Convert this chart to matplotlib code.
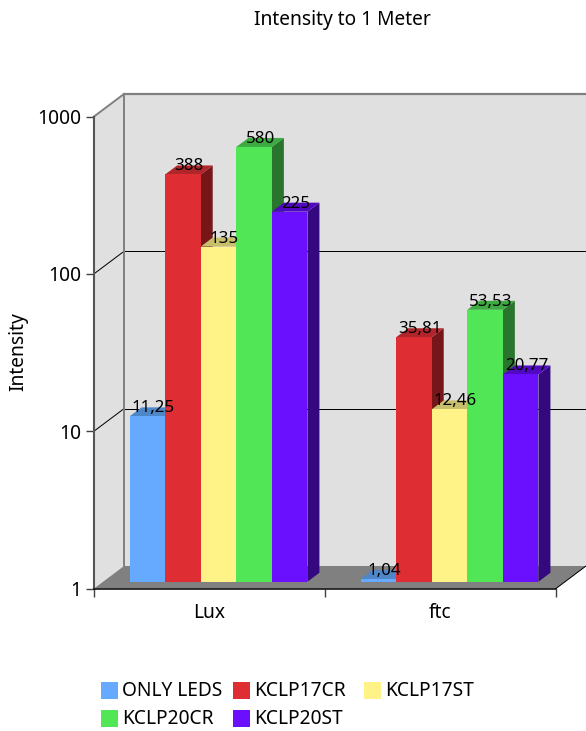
#!/usr/bin/env python3
# -*- coding: utf-8 -*-
"""Pseudo-3D log bar chart: light intensity at 1 meter."""

import matplotlib

matplotlib.use("Agg")
import matplotlib.pyplot as plt
import numpy as np
from matplotlib.patches import Polygon, Rectangle

categories = ["Lux", "ftc"]
series_names = ["ONLY LEDS", "KCLP17CR", "KCLP17ST", "KCLP20CR", "KCLP20ST"]
only_leds = [11.25, 1.04]
kclp17cr = [388, 35.81]
kclp17st = [135, 12.46]
kclp20cr = [580, 53.53]
kclp20st = [225, 20.77]
series_values = [only_leds, kclp17cr, kclp17st, kclp20cr, kclp20st]
y_ticks = [1, 10, 100, 1000]
y_tick_labels = ["1", "10", "100", "1000"]

front_colors = ["#66AAFF", "#DF2E33", "#FFF388", "#50E655", "#6A10FF"]
side_colors = ["#3A669F", "#761619", "#8F8850", "#2A752D", "#34087F"]
top_colors = ["#4E86C8", "#B0252A", "#C8BF6C", "#3DAB42", "#5008C0"]

W, H = 586, 731
WALL_DX, WALL_DY = 30, 22.5   # depth of the whole plot box, px
BAR_DX, BAR_DY = 12, 9        # depth of a single bar, px
PLANE_DX, PLANE_DY = 9, 6.75  # bars sit in the middle of the floor
BAR_W = 0.154

plt.rcParams["font.family"] = ["Noto Sans", "DejaVu Sans"]
plt.rcParams["font.size"] = 13.8

fig = plt.figure(figsize=(W / 100, H / 100), dpi=100)
ax = fig.add_axes([94 / W, (H - 588.5) / H, 462 / W, 472 / H])
ax.set_yscale("log")
ax.set_xlim(0, 2)
ax.set_ylim(1, 1000)
ax.patch.set_visible(False)


def px(x, y):
    return ax.transData.transform((x, y))


def poly(points, **kw):
    kw.setdefault("lw", 0)
    fig.add_artist(Polygon(np.array(points), closed=True, transform=None, **kw))


def line(a, b, **kw):
    fig.add_artist(plt.Line2D([a[0], b[0]], [a[1], b[1]], transform=None, **kw))


depth = np.array([WALL_DX, WALL_DY])
left_bot, right_bot = px(0, 1), px(2, 1)
left_top = px(0, 1000)
wall_right = W + 2

# walls and floor
poly([left_bot, left_bot + depth, left_top + depth, left_top], fc="#E0E0E0", zorder=1)
poly([left_bot + depth, (wall_right, left_bot[1] + WALL_DY),
      (wall_right, left_top[1] + WALL_DY), left_top + depth], fc="#E0E0E0", zorder=1)
poly([left_bot, right_bot, right_bot + depth, left_bot + depth], fc="#808080", zorder=1.5)

for val in y_ticks[1:3]:
    p = px(0, val)
    line(p, p + depth, color="black", lw=0.72, zorder=2)
    line(p + depth, (wall_right, p[1] + WALL_DY), color="black", lw=0.72, zorder=2)

line(left_top, left_top + depth, color="#808080", lw=1.4, zorder=2)
line(left_top + depth, (wall_right, left_top[1] + WALL_DY), color="#808080", lw=1.6, zorder=2)
line(left_bot + depth, left_top + depth, color="#808080", lw=1.4, zorder=2)
line(right_bot, right_bot + depth, color="black", lw=0.72, zorder=2)

# bars, left to right so every bar hides the side of the previous one
plane = np.array([PLANE_DX, PLANE_DY])
bar_depth = np.array([BAR_DX, BAR_DY])
n = len(series_names)
order = 3.0
labels = []
for c in range(len(categories)):
    for s in range(n):
        val = series_values[s][c]
        x0 = c + 0.5 + (s - n / 2) * BAR_W
        bl = px(x0, 1) + plane
        br = px(x0 + BAR_W, 1) + plane
        tl = px(x0, val) + plane
        tr = px(x0 + BAR_W, val) + plane
        poly([br, br + bar_depth, tr + bar_depth, tr], fc=side_colors[s], zorder=order)
        poly([tl, tr, tr + bar_depth, tl + bar_depth], fc=top_colors[s], zorder=order + 0.01)
        poly([bl, br, tr, tl], fc=front_colors[s], zorder=order + 0.02)
        order += 0.1
        labels.append((px(x0 + BAR_W / 2, val) + plane, val))

for pos, val in labels:
    txt = "{:g}".format(val).replace(".", ",")
    fig.text(pos[0] + BAR_DX / 2, pos[1] + 8, txt, transform=None, ha="center",
             va="center", fontsize=12.2, color="black", zorder=20)

# axes
ax.set_xticks([0, 1, 2])
ax.set_xticklabels([])
ax.set_yticks(y_ticks)
ax.set_yticklabels(y_tick_labels)
ax.minorticks_off()
ax.tick_params(axis="both", length=6, width=1, color="#404040", labelsize=13.8, pad=3)
for side in ("top", "right"):
    ax.spines[side].set_visible(False)
ax.spines["left"].set_color("#555555")
ax.spines["left"].set_linewidth(1.5)
ax.spines["bottom"].set_color("black")
ax.spines["bottom"].set_linewidth(1.1)
ax.spines["left"].set_zorder(5)
ax.spines["bottom"].set_zorder(5)
ax.set_zorder(10)

for c, name in enumerate(categories):
    xp = px(c + 0.5, 1)[0]
    fig.text(xp, H - 613.5, name, transform=None, ha="center", va="center", fontsize=13.8)

fig.text(18, H - 352, "Intensity", transform=None, rotation=90, ha="center",
         va="center", fontsize=13.8)
fig.text(342, H - 20.5, "Intensity to 1 Meter", transform=None, ha="center",
         va="center", fontsize=13.8)

# legend, laid out by hand because the columns are not aligned like a table
swatch_x = [101, 233, 364, 101, 233]
swatch_y = [682, 682, 682, 710, 710]
for s, name in enumerate(series_names):
    fig.add_artist(Rectangle((swatch_x[s], H - swatch_y[s] - 17), 17, 17,
                             transform=None, fc=front_colors[s], lw=0))
    fig.text(swatch_x[s] + 21, H - swatch_y[s] - 9.5, name, transform=None,
             ha="left", va="center", fontsize=13.8)

fig.savefig("out.png", dpi=100)
